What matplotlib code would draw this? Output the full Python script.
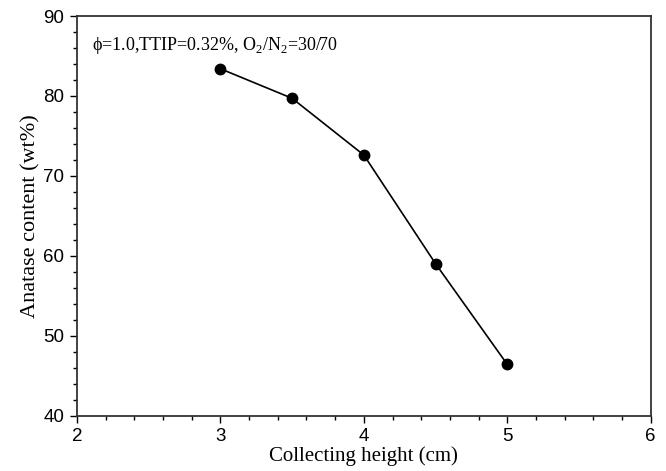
import matplotlib
matplotlib.use('Agg')
import matplotlib.pyplot as plt
from matplotlib.ticker import MultipleLocator

height_cm = [3.0, 3.5, 4.0, 4.5, 5.0]
anatase_wt = [83.4, 79.7, 72.6, 59.0, 46.4]

fig = plt.figure(figsize=(6.66, 4.71), dpi=100)
ax = fig.add_axes([0.1156, 0.1176, 0.8615, 0.8484])

ax.plot(height_cm, anatase_wt, color='black', lw=1.2, marker='o', ms=7.5)

ax.set_xlim(2, 6)
ax.set_ylim(40, 90)
ax.xaxis.set_major_locator(MultipleLocator(1))
ax.xaxis.set_minor_locator(MultipleLocator(0.2))
ax.yaxis.set_major_locator(MultipleLocator(10))
ax.yaxis.set_minor_locator(MultipleLocator(2))
ax.tick_params(which='both', direction='out', top=False, right=False)
ax.tick_params(which='major', length=5, width=1, labelsize=13.5, pad=4)
ax.tick_params(which='minor', length=3, width=1)
for lab in ax.get_xticklabels() + ax.get_yticklabels():
    lab.set_family('Liberation Sans')
for sp in ax.spines.values():
    sp.set_linewidth(1.3)
    sp.set_color('#333333')

ax.set_xlabel('Collecting height (cm)', family='Liberation Serif', fontsize=15, labelpad=1)
ax.set_ylabel('Anatase content (wt%)', family='Liberation Serif', fontsize=16, labelpad=2)

ax.text(0.026, 0.925, r'$\mathregular{\phi}$=1.0,TTIP=0.32%, O$_\mathregular{2}$/N$_\mathregular{2}$=30/70',
        transform=ax.transAxes, family='Liberation Serif', fontsize=13, va='center')

fig.savefig('out.png', dpi=100)
